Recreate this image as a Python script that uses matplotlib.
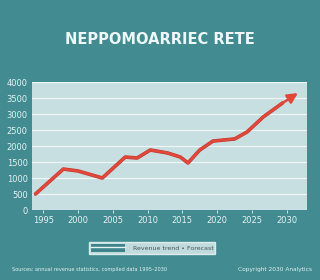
import matplotlib
matplotlib.use("Agg")
import matplotlib.pyplot as plt
import matplotlib.patheffects as pe
from matplotlib.lines import Line2D
from matplotlib.patches import Patch

# values
years = [1993.9, 1997.9, 2000.0, 2003.5, 2006.8, 2008.5, 2010.4, 2012.9,
         2014.7, 2015.8, 2017.5, 2019.4, 2022.5, 2024.3, 2026.6, 2029.4, 2031.6]
values = [500, 1280, 1220, 1000, 1655, 1625, 1875, 1780,
          1655, 1470, 1875, 2155, 2220, 2440, 2905, 3345, 3655]
x_ticks = [1995, 2000, 2005, 2010, 2015, 2020, 2025, 2030]
y_ticks = [0, 500, 1000, 1500, 2000, 2500, 3000, 3500, 4000]

title = "NEPPOMOARRIEC RETE"
legend_label = "Revenue trend \u2022 Forecast"
source_note = "Sources: annual revenue statistics, compiled data 1995\u20132030"
credit_note = "Copyright 2030 Analytics"

bg = "#418b91"
panel = "#c8dfe2"
red = "#e2473a"

fig = plt.figure(figsize=(3.2, 2.8), dpi=100, facecolor=bg)
ax = fig.add_axes([32/320, 70/280, 275/320, 128/280])
ax.set_facecolor(panel)

ax.plot(years[:-1], values[:-1], color=red, lw=1.8, solid_capstyle="round",
        solid_joinstyle="round",
        path_effects=[pe.Stroke(linewidth=2.6, foreground="#bd3a2f"), pe.Normal()], zorder=3)
ax.annotate("", xy=(years[-1], values[-1]), xytext=(years[-2], values[-2]),
            arrowprops=dict(arrowstyle="-|>,head_length=0.6,head_width=0.3",
                            color=red, lw=1.8, shrinkA=0, shrinkB=0), zorder=4)

ax.set_xlim(1993.4, 2032.9)
ax.set_ylim(0, 4000)
ax.set_xticks(x_ticks)
ax.set_yticks(y_ticks)
ax.set_xticklabels([str(x) for x in x_ticks])
ax.set_yticklabels([str(y) for y in y_ticks])
ax.tick_params(axis="x", colors="#e8f2f2", labelsize=6, length=2, width=0.6, pad=2)
ax.tick_params(axis="y", colors="#e8f2f2", labelsize=6, length=0, pad=3)
ax.grid(axis="y", color="#eef6f6", lw=0.8)
ax.set_axisbelow(True)
for s in ax.spines.values():
    s.set_visible(False)

fig.text(0.5, 1 - 40/280, title, ha="center", va="center", fontsize=10.5,
         fontweight="bold", color="#eef8f8")

box = Patch(facecolor="#3e858b", edgecolor="none")
line = Line2D([], [], color="#eaf3f3", lw=1.0)
leg = fig.legend([(box, line)], [legend_label], loc="center",
                 bbox_to_anchor=(152/320, 1 - 248/280),
                 fontsize=4.5, handlelength=5.5, handleheight=1.6, frameon=True,
                 fancybox=False, borderpad=0.25, handletextpad=1.2,
                 labelcolor="#3a5a5e")
leg.get_frame().set_facecolor("#e4eff0")
leg.get_frame().set_edgecolor("#f4fafa")
leg.get_frame().set_linewidth(1.0)

fig.text(12/320, 1 - 269/280, source_note, fontsize=3.6, color="#e3f0f0", va="center")
fig.text(312/320, 1 - 269/280, credit_note, fontsize=4.2, color="#e3f0f0", va="center", ha="right")

fig.savefig("out.png", dpi=100, facecolor=bg)
